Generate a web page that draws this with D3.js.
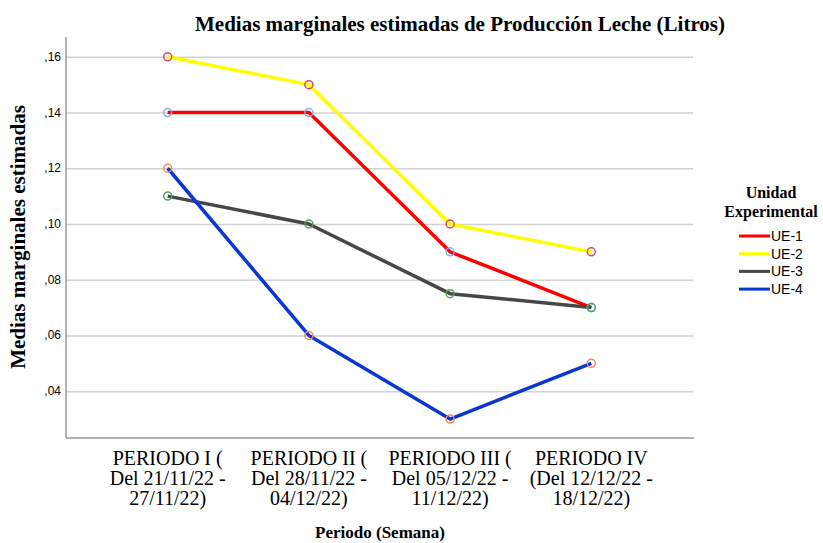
<!DOCTYPE html>
<html>
  <head>
    <meta charset="utf-8">
    <title>Medias marginales estimadas</title>
    <script src="https://cdn.jsdelivr.net/npm/d3@7"></script>
    <style>
      body { margin: 0; background: #fff; }
      .serif { font-family: "Liberation Serif", "Times New Roman", serif; fill: #000; }
      .sans { font-family: "Liberation Sans", Arial, sans-serif; fill: #000; }
      .grid line { stroke: #d2d2d2; stroke-width: 1.5; }
      .grid .domain { display: none; }
      .axisLine { stroke: #9a9a9a; stroke-width: 1.5; }
    </style>
  </head>
  <body>
    <svg id="chart" width="823" height="543"></svg>

    <script>
      // data
      periods = ["P1", "P2", "P3", "P4"];
      periodLabels = [
        ["PERIODO I (", "Del 21/11/22 -", "27/11/22)"],
        ["PERIODO II (", "Del 28/11/22 -", "04/12/22)"],
        ["PERIODO III (", "Del 05/12/22 -", "11/12/22)"],
        ["PERIODO IV", "(Del 12/12/22 -", "18/12/22)"]
      ];
      seriesNames = ["UE-1", "UE-2", "UE-3", "UE-4"];
      ue1 = [0.14, 0.14, 0.09, 0.07];
      ue2 = [0.16, 0.15, 0.10, 0.09];
      ue3 = [0.11, 0.10, 0.075, 0.07];
      ue4 = [0.12, 0.06, 0.03, 0.05];
      yTicks = [0.04, 0.06, 0.08, 0.10, 0.12, 0.14, 0.16];

      lineColors = ["#ff0000", "#ffff00", "#474747", "#0a36d2"];
      markerColors = ["#7eb2ec", "#d9456c", "#57a157", "#f48c5e"];

      series = [ue1, ue2, ue3, ue4].map(function(v, i) {
        return { name: seriesNames[i], values: v, line: lineColors[i], marker: markerColors[i] };
      });

      svg = d3.select("#chart");
      margin = { top: 37, right: 130, bottom: 105, left: 66 };
      width = 823, height = 543;

      x = d3.scalePoint()
        .domain(periods)
        .range([margin.left, width - margin.right])
        .padding(0.72);
      y = d3.scaleLinear()
        .domain([0.0232, 0.1671])
        .range([height - margin.bottom, margin.top]);

      // gridlines
      svg.append("g")
        .attr("class", "grid")
        .attr("transform", "translate(" + margin.left + ",0)")
        .call(d3.axisRight(y).tickValues(yTicks).tickSize(width - margin.right - margin.left).tickFormat(""));

      // tick labels
      svg.append("g")
        .selectAll("text")
          .data(yTicks)
        .enter().append("text")
          .attr("class", "sans")
          .attr("x", margin.left - 5)
          .attr("y", function(d) { return y(d) + 4; })
          .attr("text-anchor", "end")
          .style("font-size", "12px")
          .text(function(d) { return d3.format(".2f")(d).replace("0.", ","); });

      // axis lines
      svg.append("line").attr("class", "axisLine")
        .attr("x1", margin.left).attr("x2", margin.left)
        .attr("y1", margin.top).attr("y2", height - margin.bottom);
      svg.append("line").attr("class", "axisLine")
        .attr("x1", margin.left).attr("x2", width - margin.right + 1)
        .attr("y1", height - margin.bottom).attr("y2", height - margin.bottom);

      // lines
      line = d3.line()
        .x(function(d, i) { return x(periods[i]); })
        .y(function(d) { return y(d); });

      svg.append("g")
        .selectAll("path")
          .data(series)
        .enter().append("path")
          .attr("d", function(d) { return line(d.values); })
          .attr("fill", "none")
          .attr("stroke", function(d) { return d.line; })
          .attr("stroke-width", 3.5)
          .attr("stroke-linejoin", "round");

      // markers
      svg.append("g")
        .selectAll("g")
          .data(series)
        .enter().append("g")
          .each(function(s) {
            d3.select(this).selectAll("circle")
                .data(s.values)
              .enter().append("circle")
                .attr("cx", function(d, i) { return x(periods[i]); })
                .attr("cy", function(d) { return y(d); })
                .attr("r", 4)
                .attr("fill", "none")
                .attr("stroke", s.marker)
                .attr("stroke-width", 1.5);
          });

      // x labels
      xLabels = svg.append("g")
        .selectAll("text")
          .data(periodLabels)
        .enter().append("text")
          .attr("class", "serif")
          .attr("text-anchor", "middle")
          .style("font-size", "20px")
          .attr("transform", function(d, i) { return "translate(" + x(periods[i]) + ",465)"; });
      xLabels.selectAll("tspan")
          .data(function(d) { return d; })
        .enter().append("tspan")
          .attr("x", 0)
          .attr("y", function(d, i) { return i * 20; })
          .text(function(d) { return d; });

      // titles
      svg.append("text")
        .attr("class", "serif")
        .attr("x", 460)
        .attr("y", 31)
        .attr("text-anchor", "middle")
        .style("font-size", "21px")
        .style("font-weight", "bold")
        .text("Medias marginales estimadas de Producción Leche (Litros)");

      svg.append("text")
        .attr("class", "serif")
        .attr("transform", "translate(25,237) rotate(-90)")
        .attr("text-anchor", "middle")
        .style("font-size", "21px")
        .style("font-weight", "bold")
        .text("Medias marginales estimadas");

      svg.append("text")
        .attr("class", "serif")
        .attr("x", 380)
        .attr("y", 538)
        .attr("text-anchor", "middle")
        .style("font-size", "17px")
        .style("font-weight", "bold")
        .text("Periodo (Semana)");

      // legend
      legend = svg.append("g");
      legend.selectAll(".legTitle")
          .data(["Unidad", "Experimental"])
        .enter().append("text")
          .attr("class", "serif legTitle")
          .attr("x", 771)
          .attr("y", function(d, i) { return 198 + i * 19; })
          .attr("text-anchor", "middle")
          .style("font-size", "16px")
          .style("font-weight", "bold")
          .text(function(d) { return d; });

      legItems = legend.selectAll(".legItem")
          .data(series)
        .enter().append("g")
          .attr("class", "legItem")
          .attr("transform", function(d, i) { return "translate(739," + (236 + i * 17.7) + ")"; });
      legItems.append("line")
        .attr("x1", 0).attr("x2", 31)
        .attr("stroke", function(d) { return d.line; })
        .attr("stroke-width", 3);
      legItems.append("text")
        .attr("class", "sans")
        .attr("x", 32)
        .attr("y", 5)
        .style("font-size", "14px")
        .text(function(d) { return d.name; });
    </script>
  </body>
</html>
